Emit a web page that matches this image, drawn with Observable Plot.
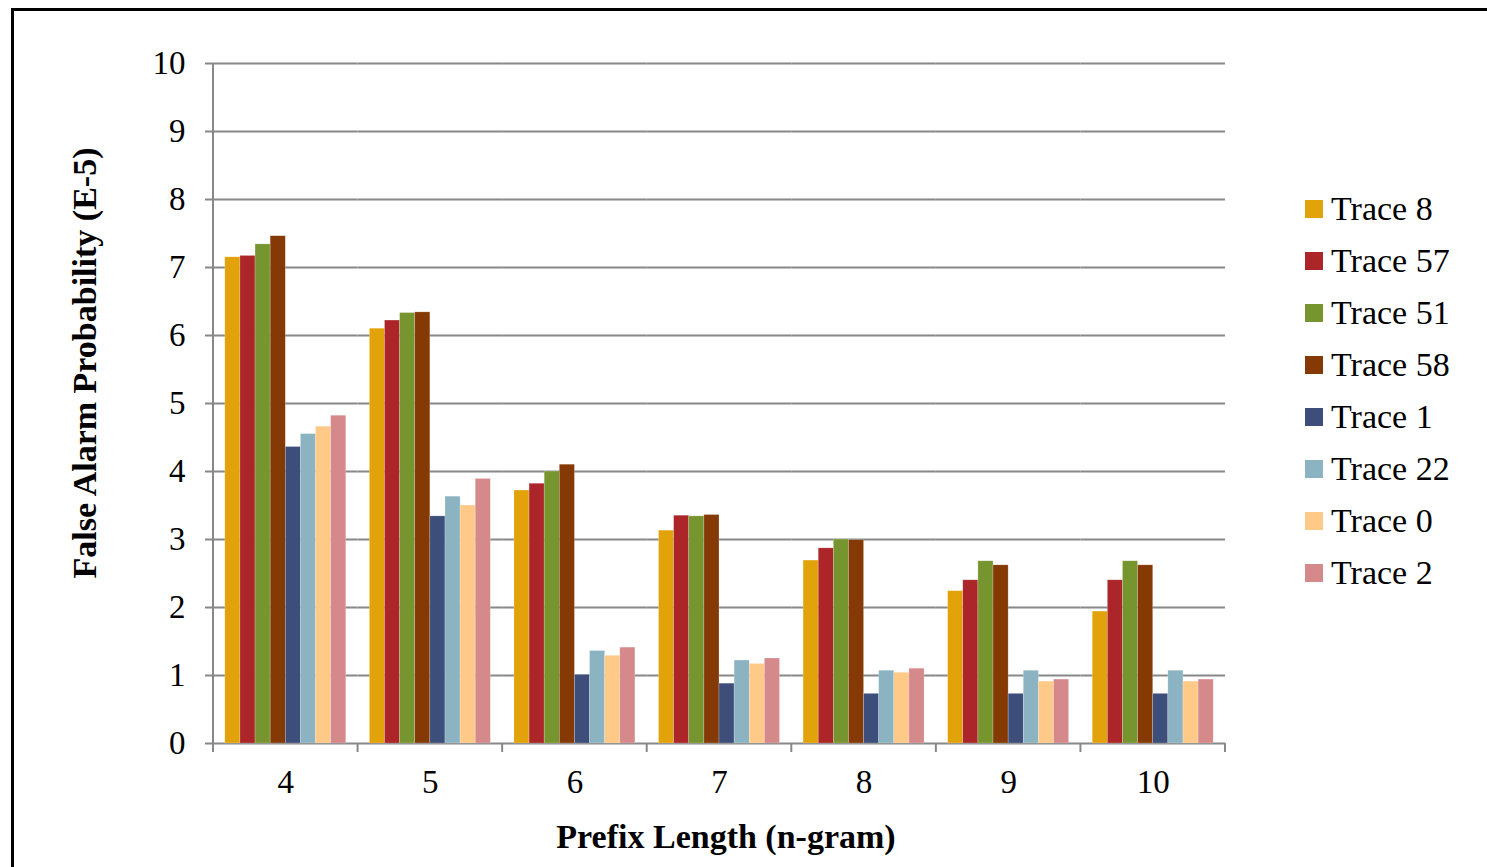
<!DOCTYPE html>
<html>
<head>
<meta charset="utf-8">
<script src="https://cdn.jsdelivr.net/npm/d3@7"></script>
<script src="https://cdn.jsdelivr.net/npm/@observablehq/plot@0.6"></script>
<style>
  html, body { margin: 0; padding: 0; background: #fff; overflow: hidden; }
  #page { position: relative; width: 1487px; height: 867px; overflow: hidden; font-family: "Liberation Serif", "Times New Roman", serif; }
  #border { position: absolute; left: 11px; top: 8px; width: 1600px; height: 1000px; border: 3px solid #000; box-sizing: border-box; }
  #chart { position: absolute; left: 0; top: 0; }
  .title { position: absolute; font-weight: bold; font-size: 34px; white-space: nowrap; color: #000; }
  #ytitle { left: 85px; top: 363px; transform: translate(-50%, -50%) rotate(-90deg); }
  #xtitle { left: 726px; top: 837px; transform: translate(-50%, -50%); }
  #legend { position: absolute; left: 1305px; top: 183px; }
  .item { display: flex; align-items: center; height: 52px; font-size: 34px; color: #000; }
  .swatch { width: 18px; height: 18px; margin-right: 8px; }
</style>
</head>
<body>
<div id="page">
  <div id="border"></div>
  <div id="chart"></div>
  <div class="title" id="ytitle">False Alarm Probability (E-5)</div>
  <div class="title" id="xtitle">Prefix Length (n-gram)</div>
  <div id="legend"></div>
</div>
<script>
// Prefix lengths (n-gram) on the category axis
const prefixLengths = ["4", "5", "6", "7", "8", "9", "10"];

// Series names and their fill colours
const traces = ["Trace 8", "Trace 57", "Trace 51", "Trace 58", "Trace 1", "Trace 22", "Trace 0", "Trace 2"];
const traceColors = ["#E2A30A", "#AC2629", "#77952F", "#853A05", "#3D4E7A", "#8BB3C1", "#FFCA87", "#D5898B"];

// False alarm probability (×1e-5) for each trace, one value per prefix length
const trace8  = [7.15, 6.10, 3.72, 3.13, 2.69, 2.24, 1.94];
const trace57 = [7.17, 6.22, 3.82, 3.35, 2.87, 2.40, 2.40];
const trace51 = [7.34, 6.33, 4.00, 3.34, 3.00, 2.68, 2.68];
const trace58 = [7.46, 6.34, 4.10, 3.36, 2.99, 2.62, 2.62];
const trace1  = [4.36, 3.34, 1.01, 0.88, 0.73, 0.73, 0.73];
const trace22 = [4.55, 3.63, 1.36, 1.22, 1.07, 1.07, 1.07];
const trace0  = [4.66, 3.50, 1.29, 1.17, 1.04, 0.91, 0.91];
const trace2  = [4.82, 3.89, 1.41, 1.25, 1.10, 0.94, 0.94];

// Value axis ticks
const yTicks = [0, 1, 2, 3, 4, 5, 6, 7, 8, 9, 10];

const series = [trace8, trace57, trace51, trace58, trace1, trace22, trace0, trace2];
const data = [];
traces.forEach((t, i) => {
  prefixLengths.forEach((n, j) => data.push({n, trace: t, value: series[i][j]}));
});

const gridColor = "#888";

const plot = Plot.plot({
  width: 1487,
  height: 867,
  marginLeft: 213,
  marginRight: 262,
  marginTop: 63,
  marginBottom: 124,
  style: {fontFamily: "'Liberation Serif', 'Times New Roman', serif", fontSize: "33px", color: gridColor, background: "transparent", overflow: "visible"},
  fx: {domain: prefixLengths, padding: 0, round: false, label: null, tickSize: 0, tickPadding: 26},
  x: {domain: traces, paddingInner: 0, paddingOuter: 0.78, round: false, axis: null},
  y: {domain: [0, 10], ticks: yTicks, tickSize: 8, tickPadding: 20, label: null, tickFormat: d => d},
  color: {domain: traces, range: traceColors},
  marks: [
    Plot.ruleY(yTicks, {stroke: gridColor, strokeWidth: 2}),
    Plot.barY(data, {fx: "n", x: "trace", y: "value", fill: "trace", stroke: "#fff", strokeOpacity: 0.35, strokeWidth: 0.6})
  ]
});

const svg = d3.select(plot);
// axis tick marks in grey, all labels in black
svg.selectAll("line, path").filter(function () {
  return this.closest("[aria-label^='y-axis'], [aria-label^='fx-axis']");
}).attr("stroke", gridColor).attr("stroke-width", 2);
svg.selectAll("text").attr("fill", "#000");

// vertical axis line and category boundary ticks below the baseline
const fx = plot.scale("fx");
const y = plot.scale("y");
const y0 = y.apply(0), y10 = y.apply(10);
const x0 = fx.apply(prefixLengths[0]);
const edges = prefixLengths.map(d => fx.apply(d)).concat([fx.apply(prefixLengths[prefixLengths.length - 1]) + fx.bandwidth]);
const deco = svg.append("g").attr("stroke", gridColor).attr("stroke-width", 2);
deco.append("line").attr("x1", x0).attr("x2", x0).attr("y1", y10).attr("y2", y0);
deco.selectAll(".edge").data(edges).join("line")
  .attr("x1", d => d).attr("x2", d => d).attr("y1", y0).attr("y2", y0 + 9);

document.getElementById("chart").appendChild(plot);

// legend
const legend = d3.select("#legend");
traces.forEach((t, i) => {
  const item = legend.append("div").attr("class", "item");
  item.append("div").attr("class", "swatch").style("background", traceColors[i]);
  item.append("span").text(t);
});
</script>
</body>
</html>
